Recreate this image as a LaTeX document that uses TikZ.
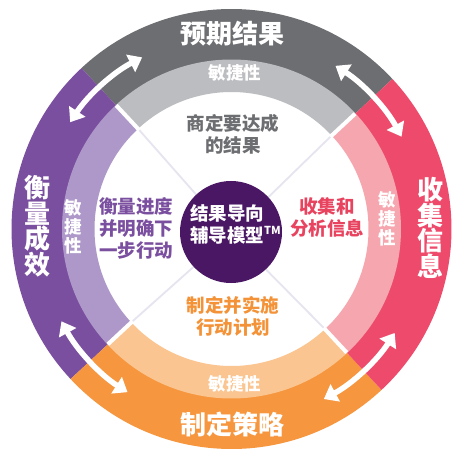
\documentclass[tikz,border=0pt]{standalone}
\usepackage{fontspec}
\setmainfont{Noto Sans CJK SC}
\usetikzlibrary{arrows.meta}
\definecolor{dgray}{HTML}{6D6E71}
\definecolor{lgray}{HTML}{BCBDC0}
\definecolor{dpurple}{HTML}{7B4F9F}
\definecolor{lpurple}{HTML}{AE98C9}
\definecolor{dred}{HTML}{EE4B6C}
\definecolor{lred}{HTML}{F6A6AE}
\definecolor{dorange}{HTML}{F6963E}
\definecolor{lorange}{HTML}{FAC590}
\definecolor{core}{HTML}{4A1764}
\definecolor{lav}{HTML}{E6E4EF}
\definecolor{redtext}{HTML}{E8435F}
\definecolor{orangetext}{HTML}{F39237}
\tikzset{
  big/.style={text=white, font=\fontsize{26}{25.5}\selectfont\bfseries, align=center, inner sep=0pt},
  agile/.style={text=white, font=\fontsize{17.5}{19}\selectfont\bfseries, align=center, inner sep=0pt},
  inner/.style={font=\fontsize{18.5}{22}\selectfont\bfseries, align=center, inner sep=0pt},
  dbl/.style={white, line width=5.5pt, {Triangle[length=13pt,width=19pt]}-{Triangle[length=13pt,width=19pt]}},
  sep/.style={white, line width=4pt},
  spoke/.style={lav, line width=1.8pt}
}
\begin{document}
\begin{tikzpicture}[x=1pt,y=1pt]
\fill[white] (0,0) rectangle (471,464);
\useasboundingbox (0,0) rectangle (471,464);
\coordinate (C) at (231.5,235);
\coordinate (K) at (231,232);
% ring sectors
\foreach \a/\dc/\lc in {43/dgray/lgray,133/dpurple/lpurple,223/dorange/lorange,313/dred/lred}{
  \pgfmathsetmacro{\b}{\a+90}
  \fill[\dc] ([shift={(\a:220)}]C) arc (\a:\b:220) -- ([shift={(\b:169)}]C) arc (\b:\a:169) -- cycle;
  \fill[\lc] ([shift={(\a:169.5)}]C) arc (\a:\b:169.5) -- ([shift={(\b:137)}]C) arc (\b:\a:137) -- cycle;
}
% separators and spokes
\foreach \a in {43,133,223,313}{
  \draw[sep] ([shift={(\a:135)}]C) -- ([shift={(\a:169)}]C);
  \draw[spoke] ([shift={(\a:50)}]K) -- ([shift={(\a:135)}]C);
}
% double arrows
\draw[dbl] ([shift={(117.5:193.5)}]C) arc (117.5:146.5:193.5);
\draw[dbl] ([shift={(28.5:193.5)}]C) arc (28.5:57.5:193.5);
\draw[dbl] ([shift={(208.5:193.5)}]C) arc (208.5:237.5:193.5);
\draw[dbl] ([shift={(298.5:193.5)}]C) arc (298.5:327.5:193.5);
% core
\node[circle, fill=core, minimum size=102pt, inner sep=0pt] (core) at (K) {};
\node[inner, text=white, anchor=west, align=left] (coretext) at (190,240) {结果导向\\辅导模型\raisebox{0.42em}{\fontsize{11}{11}\selectfont TM}};
% outer labels
\node[big] (top) at (232.5,430) {预期结果};
\node[big] (bottom) at (232,40) {制定策略};
\node[big] (left) at (37,238) {衡\\量\\成\\效};
\node[big] (right) at (430,236) {收\\集\\信\\息};
% agility labels
\node[agile] (agtop) at (235,391.5) {敏捷性};
\node[agile] (agbottom) at (235,80) {敏捷性};
\node[agile] (agleft) at (73.5,237) {敏\\捷\\性};
\node[agile] (agright) at (387,245) {敏\\捷\\性};
% inner texts
\node[inner, text=dgray] (t1) at (233,330) {商定要达成\\的结果};
\node[inner, text=redtext] (t2) at (327,247) {收集和\\分析信息};
\node[inner, text=dpurple] (t3) at (136,236) {衡量进度\\并明确下\\一步行动};
\node[inner, text=orangetext] (t4) at (233,147.5) {制定并实施\\行动计划};
\end{tikzpicture}
\end{document}
